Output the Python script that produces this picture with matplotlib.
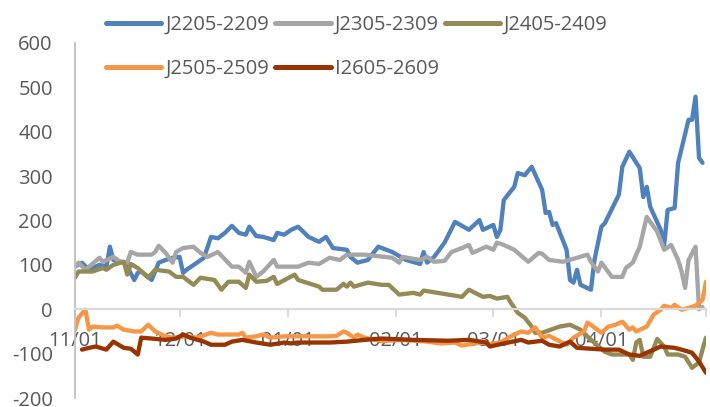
import numpy as np
import pandas as pd
import matplotlib
matplotlib.use("Agg")
import matplotlib.pyplot as plt

plt.rcParams['font.family'] = ['Open Sans', 'DejaVu Sans']
plt.rcParams['axes.unicode_minus'] = False

START = "2021-11-01"

# ---- data (day offset from 11/01, value) ----
j2205_days = [0, 2, 4, 7, 9, 10, 11, 14, 15, 17, 18, 19, 21, 22, 24, 26, 28, 30, 31, 32,
              35, 37, 39, 41, 43, 45, 47, 49, 50, 52, 54, 57, 58, 60, 62, 64, 67, 70, 72, 74,
              78, 79, 81, 84, 87, 91, 95, 99, 100, 101, 103, 106, 109, 113, 116, 117, 120, 121, 122, 123,
              126, 127, 129, 131, 134, 135, 136, 137, 138, 141, 142, 143, 144, 145, 148, 149, 151, 152, 156, 157,
              159, 162, 163, 164, 165, 168, 169, 170, 172, 173, 176, 177, 178, 179, 180]
j2205_vals = [96, 105, 89, 100, 96, 141, 111, 105, 96, 66, 82, 85, 73, 66, 105, 111, 116, 118, 82, 89,
              105, 116, 163, 160, 172, 188, 172, 168, 186, 165, 163, 156, 172, 168, 179, 186, 163, 152, 163, 138,
              134, 118, 105, 111, 141, 129, 111, 102, 129, 105, 118, 150, 197, 179, 201, 179, 190, 163, 178, 246,
              276, 307, 302, 321, 269, 217, 219, 190, 194, 134, 66, 60, 89, 55, 44, 111, 186, 194, 258, 321,
              355, 318, 253, 276, 231, 179, 145, 224, 228, 330, 427, 427, 479, 341, 330]

j2305_days = [0, 1, 3, 7, 8, 11, 13, 15, 16, 18, 22, 23, 24, 26, 28, 29, 31, 34, 36, 38,
              41, 45, 47, 49, 50, 52, 54, 57, 58, 62, 64, 67, 70, 73, 76, 78, 83, 91, 93, 94,
              99, 101, 103, 106, 108, 111, 113, 114, 116, 118, 120, 121, 123, 126, 130, 133, 134, 136, 140, 144,
              147, 148, 150, 151, 154, 157, 158, 160, 162, 164, 166, 167, 169, 171, 173, 174, 175, 176, 178, 179, 180]
j2305_vals = [96, 105, 89, 116, 107, 118, 107, 105, 129, 123, 123, 129, 143, 127, 105, 129, 138, 141, 127, 118,
              129, 96, 96, 82, 107, 73, 85, 111, 96, 96, 96, 105, 102, 116, 111, 123, 123, 116, 105, 118,
              111, 118, 107, 109, 129, 138, 145, 127, 134, 141, 134, 150, 145, 134, 107, 127, 125, 111, 107, 116,
              123, 107, 85, 105, 73, 73, 93, 105, 141, 208, 186, 175, 134, 145, 111, 85, 48, 111, 141, 0, 5]

j2405_days = [0, 1, 5, 8, 9, 11, 14, 15, 16, 18, 21, 23, 27, 29, 31, 34, 36, 40, 42, 44,
              47, 49, 50, 52, 55, 57, 58, 63, 64, 70, 71, 75, 77, 78, 79, 80, 84, 88, 90, 93,
              97, 99, 100, 104, 111, 113, 117, 119, 121, 124, 125, 127, 129, 131, 132, 134, 139, 142, 145, 148,
              152, 154, 159, 160, 161, 162, 163, 165, 167, 169, 170, 173, 175, 177, 179, 180, 181]
j2405_vals = [71, 85, 85, 93, 89, 100, 107, 78, 102, 93, 71, 89, 85, 73, 73, 55, 71, 66, 44, 62,
              62, 48, 78, 62, 64, 73, 57, 78, 66, 51, 44, 44, 57, 51, 60, 51, 60, 55, 55, 33,
              37, 33, 42, 37, 28, 44, 28, 30, 24, 28, 15, -8, -19, -39, -53, -53, -39, -35, -46, -69,
              -96, -102, -102, -114, -75, -69, -107, -107, -67, -84, -102, -102, -107, -132, -120, -91, -64]

j2505_days = [0, 1, 3, 4, 5, 8, 11, 12, 14, 17, 19, 21, 23, 26, 28, 32, 35, 39, 41, 44,
              47, 48, 49, 52, 54, 56, 60, 62, 68, 73, 75, 77, 78, 80, 81, 83, 88, 93, 100, 105,
              109, 111, 116, 119, 122, 125, 128, 130, 132, 134, 136, 139, 141, 143, 146, 147, 149, 151, 153, 155,
              157, 159, 160, 161, 164, 166, 168, 169, 171, 172, 174, 176, 178, 180, 181]
j2505_vals = [-46, -19, -1, -46, -39, -41, -41, -37, -46, -50, -50, -35, -50, -61, -64, -61, -64, -53, -57, -57,
              -57, -53, -64, -61, -57, -64, -61, -61, -61, -61, -60, -50, -53, -64, -57, -64, -72, -69, -72, -77,
              -75, -82, -75, -78, -75, -61, -50, -53, -41, -64, -60, -72, -80, -64, -50, -30, -41, -53, -39, -35,
              -28, -46, -41, -50, -39, -12, -1, 8, 3, 10, -1, 3, 8, 21, 62]

i2605_days = [2, 4, 6, 9, 11, 14, 16, 18, 19, 22, 26, 29, 31, 33, 37, 39, 43, 45, 48, 52,
              56, 60, 62, 64, 68, 73, 78, 83, 88, 97, 107, 113, 118, 119, 123, 128, 130, 134, 136, 139,
              142, 144, 148, 152, 156, 159, 162, 166, 168, 172, 174, 177, 179, 181]
i2605_vals = [-91, -87, -84, -91, -73, -87, -89, -102, -64, -66, -69, -66, -57, -64, -73, -80, -80, -73, -69, -75,
              -80, -75, -77, -75, -75, -75, -73, -69, -66, -69, -71, -69, -75, -84, -77, -69, -75, -71, -80, -84,
              -73, -87, -89, -91, -91, -102, -105, -91, -84, -87, -91, -98, -118, -143]

series_names = ["J2205-2209", "J2305-2309", "J2405-2409", "J2505-2509", "I2605-2609"]
series_days = [j2205_days, j2305_days, j2405_days, j2505_days, i2605_days]
series_vals = [j2205_vals, j2305_vals, j2405_vals, j2505_vals, i2605_vals]
colors = ["#4F81BD", "#A6A6A6", "#948A54", "#F79646", "#993300"]

month_ticks = ["2021-11-01", "2021-12-01", "2022-01-01", "2022-02-01",
               "2022-03-01", "2022-04-01", "2022-05-01"]
month_labels = ["11/01", "12/01", "01/01", "02/01", "03/01", "04/01", ""]
y_ticks = [-200, -100, 0, 100, 200, 300, 400, 500, 600]

# ---- figure ----
fig = plt.figure(figsize=(7.10, 4.07), dpi=100)
ax = fig.add_axes([75 / 710, 1 - 398 / 407, (706 - 75) / 710, (398 - 43) / 407])

base = pd.Timestamp(START)
handles = []
for name, d, v, c in zip(series_names, series_days, series_vals, colors):
    dates = base + pd.to_timedelta(np.array(d), unit="D")
    ln, = ax.plot(dates, v, color=c, lw=3.1, label=name,
                  solid_joinstyle="round", solid_capstyle="round")
    handles.append(ln)

ax.set_ylim(-200, 600)
ax.set_xlim(pd.Timestamp(month_ticks[0]), pd.Timestamp(month_ticks[-1]))
ax.set_yticks(y_ticks)
ax.set_yticklabels([str(t) for t in y_ticks])
ax.set_xticks([pd.Timestamp(t) for t in month_ticks])
ax.set_xticklabels(month_labels)

for s in ["top", "right"]:
    ax.spines[s].set_visible(False)
ax.spines["left"].set_color("#BFBFBF")
ax.spines["left"].set_linewidth(1.3)
ax.spines["bottom"].set_position(("data", 0))
ax.spines["bottom"].set_color("#D9D9D9")
ax.spines["bottom"].set_linewidth(1.6)

ax.tick_params(axis="y", length=0, pad=16, labelsize=14.5, labelcolor="#595959")
ax.tick_params(axis="x", direction="out", length=6, width=1.3, color="#D9D9D9",
               pad=10, labelsize=14.5, labelcolor="#595959")

order = [0, 3, 1, 4, 2]
leg = fig.legend([handles[i] for i in order], [series_names[i] for i in order],
                 ncol=3, loc="upper left", bbox_to_anchor=(102 / 710, 1 - 11 / 407),
                 frameon=False, fontsize=14.5, handlelength=2.75, handletextpad=0.2,
                 columnspacing=0.3, labelspacing=1.2, borderaxespad=0.0, borderpad=0.2)
for t in leg.get_texts():
    t.set_color("#595959")
for l in leg.get_lines():
    l.set_linewidth(3.6)

fig.savefig("out.png", dpi=100)
